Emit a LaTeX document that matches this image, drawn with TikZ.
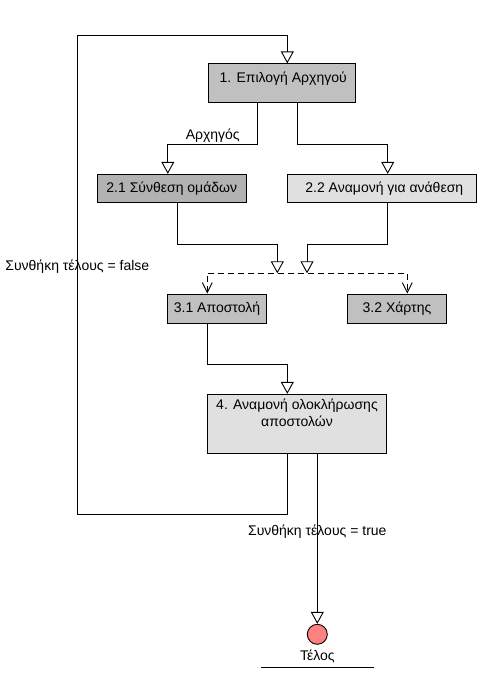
\documentclass[tikz,border=0pt]{standalone}
\usepackage{fontspec}
\setmainfont{Liberation Sans}
\usetikzlibrary{arrows.meta}
\definecolor{midgray}{HTML}{C0C0C0}
\definecolor{darkgray}{HTML}{B2B2B2}
\definecolor{lightgray}{HTML}{E0E0E0}
\definecolor{endred}{HTML}{FF8080}
\tikzset{
  task/.style={draw, line width=0.9pt, inner sep=0pt, font=\fontsize{14}{17}\selectfont},
  flow/.style={line width=0.9pt, -{Triangle[open, length=12pt, width=13pt, fill=white]}},
  fork/.style={line width=0.9pt, dashed, dash pattern=on 6pt off 4pt,
    {Straight Barb[length=10pt, width=10pt]}-{Straight Barb[length=10pt, width=10pt]}},
  lbl/.style={font=\fontsize{14}{17}\selectfont, inner sep=1pt}
}
\begin{document}
\begin{tikzpicture}[x=1pt, y=-1pt]
        \useasboundingbox (0,0) rectangle (497,680);
        % tasks
        \node[task, fill=midgray, minimum width=147pt, minimum height=38.4pt, text height=10pt, text depth=11.4pt] (lead) at (281.7,83) {\hspace{3pt}1. Επιλογή Αρχηγού};
        \node[task, fill=darkgray, minimum width=148.3pt, minimum height=28.4pt] (teams) at (171.8,188.5) {2.1 Σύνθεση ομάδων};
        \node[task, fill=lightgray, minimum width=188.3pt, minimum height=28.4pt] (assign) at (381.8,188.5) {\hspace{5pt}2.2 Αναμονή για ανάθεση};
        \node[task, fill=midgray, minimum width=99.4pt, minimum height=29.3pt] (send) at (217,308.7) {3.1 Αποστολή};
        \node[task, fill=midgray, minimum width=99.4pt, minimum height=29.3pt] (map) at (397,308.7) {3.2 Χάρτης};
        \node[task, fill=lightgray, minimum width=179.4pt, minimum height=59pt] (wait) at (297,423.8) {};
        \node[lbl, align=center, anchor=north] at ([yshift=-4pt]wait.north) {4. Αναμονή ολοκλήρωσης\\αποστολών};
        % end
        \node[draw, circle, fill=endred, line width=0.9pt, minimum size=20pt, inner sep=0pt] (end) at (317.3,634.3) {};
        \node[lbl] (endlabel) at (317.3,656.7) {Τέλος};
        \draw[line width=0.9pt] (261,667) -- (374,667);
        % join points
        \coordinate (join1) at (277.3,273.3);
        \coordinate (join2) at (307,273.3);
        \coordinate (looptl) at (77.3,35);
        \coordinate (loopbl) at (77.3,514);
        % connectors
        \draw[flow] ([xshift=-24pt]lead.south) -- ++(0,41.3) -| node[lbl, pos=0.25, above] {Αρχηγός} ([xshift=-4pt]teams.north);
        \draw[flow] ([xshift=16pt]lead.south) -- ++(0,41.3) -| ([xshift=5.9pt]assign.north);
        \draw[flow] ([xshift=5.5pt]teams.south) -- ++(0,41.6) -| (join1);
        \draw[flow] ([xshift=5.5pt]assign.south) -- ++(0,41.6) -| (join2);
        \draw[fork] ([xshift=-9.7pt]send.north) |- (join1) -| ([xshift=10.3pt]map.north);
        \draw[flow] ([xshift=-9.7pt]send.south) -- ++(0,41) -| ([xshift=-9.7pt]wait.north);
        \draw[flow] ([xshift=-9.7pt]wait.south) |- (loopbl) -- node[lbl, pos=0.516] {Συνθήκη τέλους = false} (looptl) -| ([xshift=5.6pt]lead.north);
        \draw[flow] ([xshift=20.3pt]wait.south) -- node[lbl, pos=0.458] {Συνθήκη τέλους = true} (end.north);
\end{tikzpicture}
\end{document}
